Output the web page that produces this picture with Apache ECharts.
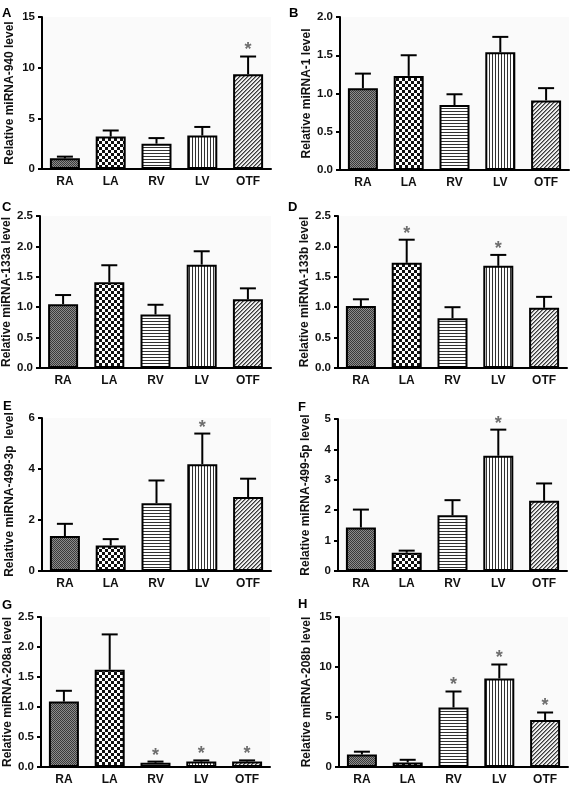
<!DOCTYPE html>
<html><head><meta charset="utf-8">
<script src="https://cdn.jsdelivr.net/npm/echarts@6/dist/echarts.min.js"></script>
<style>html,body{margin:0;padding:0;background:#fff}#c{width:572px;height:786px}</style>
</head><body><div id="c"></div>
<script>
const categories = ['RA', 'LA', 'RV', 'LV', 'OTF'];
const panelLetters = ['A', 'B', 'C', 'D', 'E', 'F', 'G', 'H'];
const yTitles = [
  'Relative miRNA-940 level', 'Relative miRNA-1 level',
  'Relative miRNA-133a level', 'Relative miRNA-133b level',
  'Relative miRNA-499-3p  level', 'Relative miRNA-499-5p level',
  'Relative miRNA-208a level', 'Relative miRNA-208b level'
];
const yMax = [15, 2, 2.5, 2.5, 6, 5, 2.5, 15];
const yStep = [5, 0.5, 0.5, 0.5, 2, 1, 0.5, 5];
const yDecimals = [0, 1, 1, 1, 0, 0, 1, 0];

const meanA = [1.05, 3.2, 2.5, 3.3, 9.35];
const semA  = [0.17, 0.6, 0.55, 0.85, 1.75];
const sigA  = [0, 0, 0, 0, 1];
const meanB = [1.07, 1.23, 0.85, 1.54, 0.91];
const semB  = [0.19, 0.27, 0.14, 0.2, 0.16];
const sigB  = [0, 0, 0, 0, 0];
const meanC = [1.05, 1.41, 0.88, 1.70, 1.13];
const semC  = [0.15, 0.28, 0.16, 0.22, 0.18];
const sigC  = [0, 0, 0, 0, 0];
const meanD = [1.02, 1.73, 0.82, 1.68, 0.99];
const semD  = [0.11, 0.38, 0.18, 0.18, 0.18];
const sigD  = [0, 1, 0, 1, 0];
const meanE = [1.37, 1.0, 2.66, 4.19, 2.9];
const semE  = [0.48, 0.25, 0.89, 1.2, 0.72];
const sigE  = [0, 0, 0, 1, 0];
const meanF = [1.43, 0.6, 1.83, 3.79, 2.31];
const semF  = [0.59, 0.07, 0.5, 0.86, 0.57];
const sigF  = [0, 0, 0, 1, 0];
const meanG = [1.09, 1.62, 0.07, 0.09, 0.09];
const semG  = [0.18, 0.59, 0.02, 0.02, 0.02];
const sigG  = [0, 0, 1, 1, 1];
const meanH = [1.25, 0.45, 5.95, 8.85, 4.7];
const semH  = [0.28, 0.27, 1.6, 1.4, 0.75];
const sigH  = [0, 0, 1, 1, 1];

const means = [meanA, meanB, meanC, meanD, meanE, meanF, meanG, meanH];
const sems = [semA, semB, semC, semD, semE, semF, semG, semH];
const sigs = [sigA, sigB, sigC, sigD, sigE, sigF, sigG, sigH];

// layout
const grids = [
  {left: 42, top: 17, width: 229, height: 152},
  {left: 340, top: 17, width: 229, height: 153},
  {left: 40, top: 216, width: 231, height: 152},
  {left: 338, top: 216, width: 229, height: 152},
  {left: 42, top: 418, width: 229, height: 153},
  {left: 338, top: 419, width: 229, height: 152},
  {left: 41, top: 617, width: 229, height: 152},
  {left: 339, top: 617, width: 229, height: 153}
];
const letterPos = [[2, 7], [289, 7], [2, 201], [288, 201], [3, 400], [298, 401], [2, 599], [298, 598]];

function pattern(kind) {
  const c = document.createElement('canvas');
  let ctx;
  if (kind === 0) { // fine dense crosshatch
    c.width = 2; c.height = 2; ctx = c.getContext('2d');
    ctx.fillStyle = '#3a3a3a'; ctx.fillRect(0, 0, 1, 1); ctx.fillRect(1, 1, 1, 1);
    ctx.fillStyle = '#8c8c8c'; ctx.fillRect(1, 0, 1, 1); ctx.fillRect(0, 1, 1, 1);
  } else if (kind === 1) { // checkerboard
    c.width = 6; c.height = 6; ctx = c.getContext('2d');
    ctx.fillStyle = '#fff'; ctx.fillRect(0, 0, 6, 6);
    ctx.fillStyle = '#111'; ctx.fillRect(0, 0, 3, 3); ctx.fillRect(3, 3, 3, 3);
  } else if (kind === 2) { // horizontal lines
    c.width = 4; c.height = 3; ctx = c.getContext('2d');
    ctx.fillStyle = '#fff'; ctx.fillRect(0, 0, 4, 3);
    ctx.fillStyle = '#333'; ctx.fillRect(0, 0, 4, 1);
  } else if (kind === 3) { // vertical lines
    c.width = 3; c.height = 4; ctx = c.getContext('2d');
    ctx.fillStyle = '#fff'; ctx.fillRect(0, 0, 3, 4);
    ctx.fillStyle = '#333'; ctx.fillRect(0, 0, 1, 4);
  } else { // diagonal lines
    c.width = 4; c.height = 4; ctx = c.getContext('2d');
    ctx.fillStyle = '#eeeeee'; ctx.fillRect(0, 0, 4, 4);
    ctx.fillStyle = '#3a3a3a';
    for (let i = 0; i < 4; i++) { ctx.fillRect(3 - i, i, 1, 1); }
    ctx.fillStyle = '#8a8a8a';
    for (let i = 0; i < 4; i++) { ctx.fillRect((4 - i) % 4, i, 1, 1); }
  }
  return {image: c, repeat: 'repeat'};
}
const fills = [0, 1, 2, 3, 4].map(pattern);

const FONT = '"Liberation Sans", Arial, sans-serif';
const option = {
  animation: false,
  backgroundColor: '#fff',
  title: panelLetters.map((t, i) => ({
    text: t, left: letterPos[i][0], top: letterPos[i][1], padding: 0,
    textStyle: {fontFamily: FONT, fontWeight: 'bold', fontSize: 13, color: '#000'}
  })),
  grid: grids.map(g => Object.assign({show: true, backgroundColor: '#fafafa', borderWidth: 0}, g)),
  xAxis: grids.map((g, i) => ({
    type: 'category', gridIndex: i, data: categories,
    axisLine: {lineStyle: {color: '#000', width: 2}},
    axisTick: {show: false},
    axisLabel: {fontFamily: FONT, fontWeight: 'bold', fontSize: 12, color: '#111', margin: 7}
  })),
  yAxis: grids.map((g, i) => ({
    type: 'value', gridIndex: i, min: 0, max: yMax[i], interval: yStep[i],
    name: yTitles[i], nameLocation: 'middle', nameGap: 26,
    nameTextStyle: {fontFamily: FONT, fontWeight: 'bold', fontSize: 12, color: '#111'},
    axisLine: {show: true, lineStyle: {color: '#000', width: 2}},
    axisTick: {show: true, length: 4, lineStyle: {color: '#000', width: 2}},
    splitLine: {show: false},
    axisLabel: {fontFamily: FONT, fontWeight: 'bold', fontSize: 11.5, color: '#111', margin: 7,
      formatter: v => Number(v).toFixed(yDecimals[i])}
  })),
  series: []
};

for (let i = 0; i < 8; i++) {
  option.series.push({
    type: 'bar', xAxisIndex: i, yAxisIndex: i, barWidth: 30, z: 2,
    data: means[i].map((v, k) => ({value: v, itemStyle: {color: fills[k], borderColor: '#000', borderWidth: 2}}))
  });
  option.series.push({
    type: 'custom', xAxisIndex: i, yAxisIndex: i, z: 3,
    encode: {x: 0, y: 1},
    data: means[i].map((v, k) => [k, v, sems[i][k], sigs[i][k]]),
    renderItem: function (params, api) {
      const x = api.value(0), m = api.value(1), e = api.value(2), s = api.value(3);
      const p0 = api.coord([x, m]);
      const p1 = api.coord([x, m + e]);
      const ch = [
        {type: 'line', shape: {x1: p0[0], y1: p0[1], x2: p1[0], y2: p1[1]}, style: {stroke: '#000', lineWidth: 2}},
        {type: 'line', shape: {x1: p1[0] - 8, y1: p1[1], x2: p1[0] + 8, y2: p1[1]}, style: {stroke: '#000', lineWidth: 2}}
      ];
      if (s) {
        ch.push({type: 'text', x: p1[0], y: p1[1] - 6,
          style: {text: '*', fill: '#6e6e6e', font: 'bold 18px ' + FONT, align: 'center', verticalAlign: 'middle'}});
      }
      return {type: 'group', children: ch};
    }
  });
}

const chart = echarts.init(document.getElementById('c'), null, {renderer: 'canvas'});
chart.setOption(option);
</script>
</body></html>
